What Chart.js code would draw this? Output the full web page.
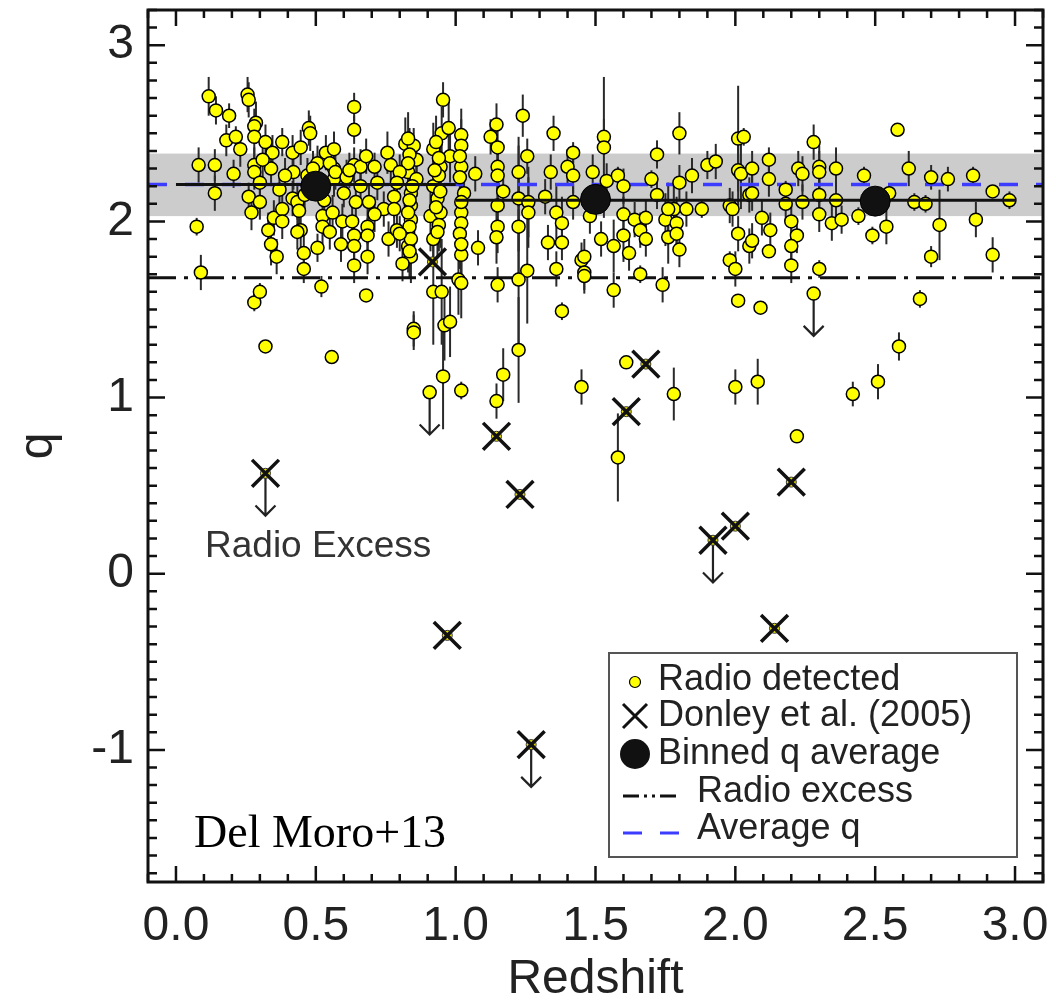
<!DOCTYPE html>
<html>
<head>
<meta charset="utf-8">
<script src="https://cdn.jsdelivr.net/npm/chart.js@4.4.0/dist/chart.umd.min.js"></script>
<style>
  html, body { margin: 0; padding: 0; background: #fff; }
  #wrap { width: 1056px; height: 1003px; position: relative; }
</style>
</head>
<body>
<div id="wrap"><canvas id="grafico"></canvas></div>
<script>
// valores: redshift (z), q e barra de erro de cada fonte rádio
const radioZ = [
  0.117,0.143,0.19,0.18,0.214,0.081,0.139,0.139,0.206,0.074,0.089,
  0.256,0.26,0.286,0.28,0.28,0.32,0.38,0.28,0.28,0.34,0.345,0.26,0.30,0.35,0.38,0.38,0.34,0.36,0.28,0.30,
  0.417,0.446,0.475,0.48,0.42,0.417,0.434,0.446,0.434,0.457,0.457,0.506,0.52,0.524,0.524,0.55,0.506,0.536,0.565,0.565,0.565,0.60,0.59,0.595,
  0.637,0.637,0.637,0.66,0.68,0.71,0.643,0.63,0.637,0.637,0.637,0.685,0.685,0.685,0.68,
  0.756,0.768,0.743,0.78,0.76,0.79,0.82,0.85,0.83,0.86,0.86,0.84,0.84,0.84,0.83,0.83,0.84,
  0.92,0.95,0.955,0.975,0.946,0.98,0.92,0.935,0.91,0.946,0.92,0.92,0.95,
  1.02,1.02,1.02,1.03,1.02,1.02,1.02,1.01,1.02,1.07,1.08,
  1.125,1.146,1.15,1.15,1.15,1.17,1.15,1.15,1.146,1.15,
  1.225,1.24,1.256,1.225,1.26,1.26,1.225,1.256,1.225,
  1.35,1.34,1.32,1.36,1.38,1.33,1.38,1.36,1.38,1.42,1.40,1.42,1.42,1.45,1.46,
  1.53,1.53,1.49,1.54,1.48,1.52,1.46,1.46,1.565,1.58,1.60,1.60,1.64,1.68,1.66,1.68,1.60,1.565,1.62,1.66,
  1.72,1.70,1.72,1.74,1.75,1.76,1.78,1.76,1.79,1.79,1.80,1.80,1.80,1.825,1.845,1.88,1.90,1.93,
  2.01,2.03,2.01,2.02,1.98,1.99,2.01,1.98,2.00,2.01,2.05,2.06,2.06,2.05,2.06,2.09,
  2.12,2.12,2.095,2.125,2.12,2.18,2.18,2.20,2.22,2.20,2.20,2.225,2.24,2.24,2.28,2.30,2.30,2.30,2.30,2.30,
  2.345,2.36,2.36,2.38,2.44,2.46,2.49,2.54,2.55,2.58,2.62,2.64,2.68,2.70,2.70,2.73,2.66,2.76,2.85,2.86,2.92,2.92,2.98,
  0.32,0.557,0.85,0.85,0.96,0.98,0.955,1.02,1.146,1.17,1.225,1.45,1.61,1.58,1.78,2.00,2.08,2.585,2.51,2.42,2.22,
  0.83,0.835,0.83,0.845,0.835,0.83,0.835,0.84,0.835,0.80,0.79,0.78,0.80,0.81,
  0.93,0.94,0.94,0.945,0.93,0.94,0.935,0.925,
  1.015,1.015,1.02,1.015,1.02,
  0.47,0.49,0.55,0.57,0.53,0.46,0.44,0.56,0.61,0.62,0.66,0.69,0.72,0.71,
  0.23,0.30,0.27,0.33,0.31,0.37,0.39
];
const radioQ = [
  2.71,2.63,2.60,2.46,2.48,2.32,2.32,2.16,2.27,1.97,1.71,
  2.72,2.69,2.56,2.54,2.48,2.45,2.45,2.32,2.28,2.30,2.39,2.14,2.11,2.02,2.07,2.00,1.87,1.80,1.54,1.60,
  2.39,2.42,2.53,2.50,2.28,2.13,2.11,1.95,1.94,1.82,1.73,1.85,1.63,2.03,1.97,1.94,2.33,2.39,2.41,2.30,2.24,2.16,1.87,2.00,
  2.65,2.52,2.32,2.31,2.37,2.31,2.11,2.00,1.92,1.86,1.75,1.97,1.92,1.80,1.58,
  2.39,2.32,2.07,2.14,1.90,1.95,2.44,2.43,2.28,2.35,2.24,2.16,2.09,2.01,1.94,1.86,1.80,
  2.41,2.50,2.69,2.53,2.31,2.37,2.20,2.13,2.03,2.05,1.90,1.60,1.60,
  2.49,2.43,2.31,2.16,2.05,1.99,1.81,1.67,1.65,2.27,1.85,
  2.48,2.55,2.42,2.31,2.26,2.17,2.09,1.97,1.91,1.64,
  2.28,2.60,2.37,2.13,2.11,2.05,1.97,1.72,1.67,
  2.50,2.28,2.14,2.05,1.99,1.88,1.88,1.73,1.49,2.39,2.31,2.26,2.11,1.78,1.71,
  2.48,2.42,2.28,2.23,2.03,1.90,1.80,1.69,1.61,2.26,2.20,2.04,2.01,2.02,1.95,1.90,1.92,1.86,1.82,1.70,
  2.38,2.24,2.15,1.64,2.01,1.91,2.07,2.07,1.99,1.93,1.84,2.50,2.22,2.07,2.26,2.07,2.32,2.34,
  2.47,2.48,2.29,2.27,2.09,2.07,1.93,1.78,1.73,1.55,2.15,2.16,2.30,1.86,1.89,1.51,
  2.35,2.24,2.02,1.95,1.83,2.18,2.10,2.00,1.92,1.86,1.75,2.30,2.27,2.11,2.45,2.31,2.28,2.15,2.04,1.73,
  1.99,2.30,2.12,2.01,2.03,2.26,1.92,1.97,2.16,2.52,2.30,2.11,2.10,2.25,1.80,1.98,1.56,2.24,2.26,2.01,2.17,1.81,2.12,
  1.29,1.23,1.39,1.37,1.41,1.43,1.12,1.04,0.98,1.13,1.27,1.06,1.20,0.66,1.02,1.06,1.09,1.29,1.09,1.02,0.78,
  2.47,2.38,2.33,2.20,2.12,2.05,1.97,1.90,1.83,2.28,2.22,2.07,1.93,1.76,
  2.45,2.36,2.26,2.17,2.08,1.98,1.94,2.29,
  2.37,2.25,2.11,1.93,1.87,
  2.26,2.30,2.33,2.28,2.12,2.15,2.06,2.05,2.25,2.29,2.20,2.11,2.22,2.04,
  2.41,2.22,2.05,1.95,2.35,2.18,2.26
];
const radioErr = [
  0.11,0.08,0.07,0.09,0.06,0.10,0.09,0.10,0.08,0.05,0.10,
  0.10,0.10,0.12,0.10,0.10,0.10,0.08,0.10,0.10,0.10,0.10,0.08,0.10,0.10,0.10,0.10,0.12,0.10,0.05,0.05,
  0.10,0.10,0.10,0.10,0.10,0.10,0.10,0.10,0.10,0.10,0.08,0.08,0.06,0.10,0.10,0.10,0.10,0.10,0.10,0.10,0.10,0.08,0.10,0.10,
  0.08,0.08,0.10,0.10,0.10,0.08,0.10,0.10,0.10,0.10,0.10,0.10,0.10,0.10,0.03,
  0.12,0.10,0.10,0.12,0.10,0.10,0.15,0.10,0.10,0.10,0.10,0.12,0.12,0.15,0.15,0.15,0.15,
  0.15,0.15,0.10,0.15,0.15,0.15,0.20,0.20,0.20,0.20,0.15,0.30,0.30,
  0.15,0.15,0.20,0.20,0.20,0.20,0.20,0.20,0.20,0.10,0.10,
  0.10,0.12,0.12,0.15,0.15,0.10,0.15,0.15,0.15,0.10,
  0.20,0.12,0.10,0.30,0.20,0.20,0.30,0.30,0.40,
  0.10,0.10,0.10,0.15,0.15,0.10,0.10,0.10,0.05,0.06,0.10,0.10,0.10,0.10,0.10,
  0.10,0.40,0.10,0.10,0.10,0.10,0.10,0.10,0.10,0.05,0.10,0.10,0.10,0.10,0.10,0.10,0.15,0.15,0.10,0.05,
  0.08,0.05,0.08,0.10,0.15,0.15,0.15,0.15,0.15,0.10,0.10,0.12,0.10,0.10,0.10,0.05,0.08,0.10,
  0.30,0.05,0.20,0.20,0.10,0.10,0.10,0.05,0.10,0.03,0.10,0.10,0.10,0.10,0.10,0.03,
  0.07,0.10,0.10,0.10,0.03,0.05,0.10,0.10,0.10,0.10,0.10,0.10,0.10,0.10,0.10,0.12,0.12,0.12,0.10,0.05,
  0.10,0.12,0.12,0.08,0.05,0.05,0.05,0.10,0.05,0.03,0.10,0.05,0.05,0.07,0.06,0.20,0.05,0.07,0.05,0.10,0.03,0.10,0.05,
  0.03,0.02,0.10,0.10,0.20,0.20,0.30,0.05,0.10,0.15,0.30,0.10,0.02,0.25,0.15,0.10,0.13,0.08,0.10,0.07,0.02,
  0.15,0.15,0.15,0.15,0.15,0.15,0.15,0.15,0.15,0.10,0.10,0.10,0.10,0.10,
  0.15,0.15,0.15,0.15,0.15,0.15,0.15,0.15,
  0.15,0.20,0.20,0.20,0.20,
  0.10,0.10,0.10,0.10,0.10,0.10,0.10,0.10,0.10,0.10,0.10,0.10,0.10,0.10,
  0.10,0.10,0.10,0.10,0.10,0.10,0.10
];

// fontes rádio que são limite superior (com seta para baixo)
const radioLimZ = [0.907, 2.28];
const radioLimQ = [1.03, 1.59];

// fontes de Donley et al. (2005) e quais delas são limite superior
const donleyZ = [0.32, 0.917, 1.146, 1.23, 1.68, 1.61, 2.00, 1.92, 2.14, 2.20, 0.97, 1.27];
const donleyQ = [0.57, 1.77, 0.78, 0.45, 1.19, 0.92, 0.27, 0.19, -0.31, 0.52, -0.35, -0.97];
const donleyLim = [true, false, false, false, false, false, false, true, false, false, false, true];

// médias de q por bin de redshift
const binZ = [0.5, 1.5, 2.5];
const binQ = [2.20, 2.125, 2.115];
const binLineZ0 = [0.0, 1.0];
const binLineZ1 = [1.0, 3.0];
const binLineQ = [2.21, 2.12];

// q médio, faixa de dispersão e limite de excesso rádio
const avgQ = 2.21;
const bandQ = [2.03, 2.385];
const excessQ = 1.68;

// rótulos dos eixos
const xTicks = [0.0, 0.5, 1.0, 1.5, 2.0, 2.5, 3.0];
const yTicks = [-1, 0, 1, 2, 3];

const xMin = -0.1, xMax = 3.1, yMin = -1.75, yMax = 3.2;
const arrowLen = 0.24;

const toPts = (zs, qs) => zs.map((z, i) => ({x: z, y: qs[i]}));

// plugin que desenha a faixa cinza, barras de erro e setas dos limites
const fundoPlugin = {
  id: 'fundo',
  beforeDatasetsDraw(chart) {
    const {ctx, chartArea: a, scales: {x, y}} = chart;
    ctx.save();
    ctx.beginPath();
    ctx.rect(a.left, a.top, a.right - a.left, a.bottom - a.top);
    ctx.clip();
    // faixa cinza
    ctx.fillStyle = '#cccccc';
    const yb0 = y.getPixelForValue(bandQ[1]), yb1 = y.getPixelForValue(bandQ[0]);
    ctx.fillRect(a.left, yb0, a.right - a.left, yb1 - yb0);
    // barras de erro
    ctx.strokeStyle = '#2a2a2a';
    ctx.lineWidth = 2;
    radioZ.forEach((z, i) => {
      const px = x.getPixelForValue(z);
      ctx.beginPath();
      ctx.moveTo(px, y.getPixelForValue(radioQ[i] + radioErr[i]));
      ctx.lineTo(px, y.getPixelForValue(radioQ[i] - radioErr[i]));
      ctx.stroke();
    });
    // setas de limite superior
    const seta = (z, q) => {
      const px = x.getPixelForValue(z);
      const p0 = y.getPixelForValue(q), p1 = y.getPixelForValue(q - arrowLen);
      ctx.strokeStyle = '#222';
      ctx.lineWidth = 2.2;
      ctx.beginPath();
      ctx.moveTo(px, p0); ctx.lineTo(px, p1);
      ctx.moveTo(px - 10, p1 - 10); ctx.lineTo(px, p1); ctx.lineTo(px + 10, p1 - 10);
      ctx.stroke();
    };
    radioLimZ.forEach((z, i) => seta(z, radioLimQ[i]));
    donleyZ.forEach((z, i) => { if (donleyLim[i]) seta(z, donleyQ[i]); });
    ctx.restore();
  },
  afterDraw(chart) {
    const {ctx, chartArea: a, scales: {x, y}} = chart;
    ctx.save();
    // moldura e marcas de escala para dentro
    ctx.strokeStyle = '#111';
    ctx.lineWidth = 2.5;
    for (let k = Math.round(xMin * 10); k <= Math.round(xMax * 10); k++) {
      const px = x.getPixelForValue(k / 10);
      const len = (k % 5 === 0) ? 16 : 8;
      ctx.beginPath();
      ctx.moveTo(px, a.bottom); ctx.lineTo(px, a.bottom - len);
      ctx.moveTo(px, a.top); ctx.lineTo(px, a.top + len);
      ctx.stroke();
    }
    for (let k = Math.ceil(yMin * 10); k <= Math.floor(yMax * 10); k++) {
      const py = y.getPixelForValue(k / 10);
      const len = (k % 10 === 0) ? 17 : 9;
      ctx.beginPath();
      ctx.moveTo(a.left, py); ctx.lineTo(a.left + len, py);
      ctx.moveTo(a.right, py); ctx.lineTo(a.right - len, py);
      ctx.stroke();
    }
    ctx.lineWidth = 3;
    ctx.strokeRect(a.left, a.top, a.right - a.left, a.bottom - a.top);

    // títulos dos eixos
    ctx.fillStyle = '#222';
    ctx.font = '48px "Liberation Sans", Arial, sans-serif';
    ctx.textAlign = 'center';
    ctx.textBaseline = 'alphabetic';
    ctx.fillText('Redshift', (a.left + a.right) / 2, 993);
    ctx.save();
    ctx.translate(52, (a.top + a.bottom) / 2);
    ctx.rotate(-Math.PI / 2);
    ctx.fillText('q', 0, 0);
    ctx.restore();

    // textos dentro do gráfico
    ctx.textAlign = 'left';
    ctx.font = '37px "Liberation Sans", Arial, sans-serif';
    ctx.fillStyle = '#333';
    ctx.fillText('Radio Excess', 205, 557);
    ctx.font = '46px "Liberation Serif", "Times New Roman", serif';
    ctx.fillStyle = '#000';
    ctx.fillText('Del Moro+13', 194, 847);

    // legenda
    const lx = 609, ly = 653, lw = 408, lh = 204;
    ctx.fillStyle = '#fff';
    ctx.fillRect(lx, ly, lw, lh);
    ctx.strokeStyle = '#555';
    ctx.lineWidth = 2;
    ctx.strokeRect(lx, ly, lw, lh);
    ctx.font = '36px "Liberation Sans", Arial, sans-serif';
    ctx.fillStyle = '#222';
    ctx.textBaseline = 'middle';
    const rows = [680, 716, 754, 792, 829];
    ctx.fillText('Radio detected', 658, rows[0]);
    ctx.fillText('Donley et al. (2005)', 658, rows[1]);
    ctx.fillText('Binned q average', 658, rows[2]);
    ctx.fillText('Radio excess', 697, rows[3]);
    ctx.fillText('Average q', 697, rows[4]);
    // símbolos da legenda
    ctx.beginPath();
    ctx.arc(635, rows[0] + 2, 5.5, 0, Math.PI * 2);
    ctx.fillStyle = '#ffff00'; ctx.fill();
    ctx.strokeStyle = '#000'; ctx.lineWidth = 1.2; ctx.stroke();
    ctx.strokeStyle = '#111'; ctx.lineWidth = 3;
    ctx.beginPath();
    ctx.moveTo(623, rows[1] - 12); ctx.lineTo(647, rows[1] + 12);
    ctx.moveTo(647, rows[1] - 12); ctx.lineTo(623, rows[1] + 12);
    ctx.stroke();
    ctx.beginPath();
    ctx.arc(635, rows[2], 15, 0, Math.PI * 2);
    ctx.fillStyle = '#111'; ctx.fill();
    ctx.lineWidth = 3;
    ctx.setLineDash([16, 5, 3, 5, 3, 5]);
    ctx.beginPath(); ctx.moveTo(623, rows[3] + 4); ctx.lineTo(680, rows[3] + 4); ctx.stroke();
    ctx.strokeStyle = '#3c3cff';
    ctx.setLineDash([19, 18]);
    ctx.beginPath(); ctx.moveTo(623, rows[4] + 4); ctx.lineTo(680, rows[4] + 4); ctx.stroke();
    ctx.restore();
  }
};

const criarGrafico = () => {
  const ctx = document.getElementById('grafico').getContext('2d');
  const donleyPts = toPts(donleyZ, donleyQ);
  new Chart(ctx, {
    type: 'scatter',
    data: {
      datasets: [
        { // X de Donley
          data: donleyPts, order: 1,
          pointStyle: 'crossRot', pointRadius: 19, borderColor: '#111', borderWidth: 3.5,
          backgroundColor: 'transparent'
        },
        { // ponto amarelo pequeno por baixo do X
          data: donleyPts, order: 2,
          pointRadius: 5, backgroundColor: '#e8e000', borderColor: '#333', borderWidth: 1
        },
        { // médias por bin
          data: toPts(binZ, binQ), order: 3,
          pointRadius: 15, backgroundColor: '#111', borderColor: '#000', borderWidth: 1
        },
        { // linhas das médias
          type: 'line', order: 4,
          data: [{x: binLineZ0[0], y: binLineQ[0]}, {x: binLineZ1[0], y: binLineQ[0]}],
          borderColor: '#111', borderWidth: 3, pointRadius: 0
        },
        {
          type: 'line', order: 5,
          data: [{x: binLineZ0[1], y: binLineQ[1]}, {x: binLineZ1[1], y: binLineQ[1]}],
          borderColor: '#111', borderWidth: 3, pointRadius: 0
        },
        { // fontes rádio
          data: toPts(radioZ.concat(radioLimZ), radioQ.concat(radioLimQ)), order: 6,
          pointRadius: 6.5, backgroundColor: '#ffff00', borderColor: '#000', borderWidth: 1.5
        },
        { // limite de excesso rádio
          type: 'line', order: 7,
          data: [{x: xMin, y: excessQ}, {x: xMax, y: excessQ}],
          borderColor: '#111', borderWidth: 3, borderDash: [28, 8, 4, 8], pointRadius: 0
        },
        { // q médio
          type: 'line', order: 8,
          data: [{x: xMin, y: avgQ}, {x: xMax, y: avgQ}],
          borderColor: '#3c3cff', borderWidth: 3.5, borderDash: [19, 18], pointRadius: 0
        }
      ]
    },
    options: {
      responsive: true,
      maintainAspectRatio: false,
      animation: false,
      devicePixelRatio: 1,
      layout: { autoPadding: false, padding: { top: 10, right: 13, left: 0, bottom: 0 } },
      plugins: { legend: { display: false }, tooltip: { enabled: false } },
      scales: {
        x: {
          type: 'linear', min: xMin, max: xMax,
          afterBuildTicks: (s) => { s.ticks = xTicks.map(v => ({value: v})); },
          afterFit: (s) => { s.height = 121; s.paddingLeft = 0; s.paddingRight = 0; },
          grid: { display: false, drawTicks: false },
          border: { display: false },
          ticks: {
            autoSkip: false, maxRotation: 0, padding: 16,
            font: { family: '"Liberation Sans", Arial, sans-serif', size: 48 },
            color: '#222',
            callback: (v) => Number(v).toFixed(1)
          }
        },
        y: {
          type: 'linear', min: yMin, max: yMax,
          afterBuildTicks: (s) => { s.ticks = yTicks.map(v => ({value: v})); },
          afterFit: (s) => { s.width = 148; s.paddingTop = 0; s.paddingBottom = 0; },
          grid: { display: false, drawTicks: false },
          border: { display: false },
          ticks: {
            autoSkip: false, padding: 14,
            font: { family: '"Liberation Sans", Arial, sans-serif', size: 48 },
            color: '#222',
            callback: (v) => String(v)
          }
        }
      }
    },
    plugins: [fundoPlugin]
  });
};

criarGrafico();
</script>
</body>
</html>
